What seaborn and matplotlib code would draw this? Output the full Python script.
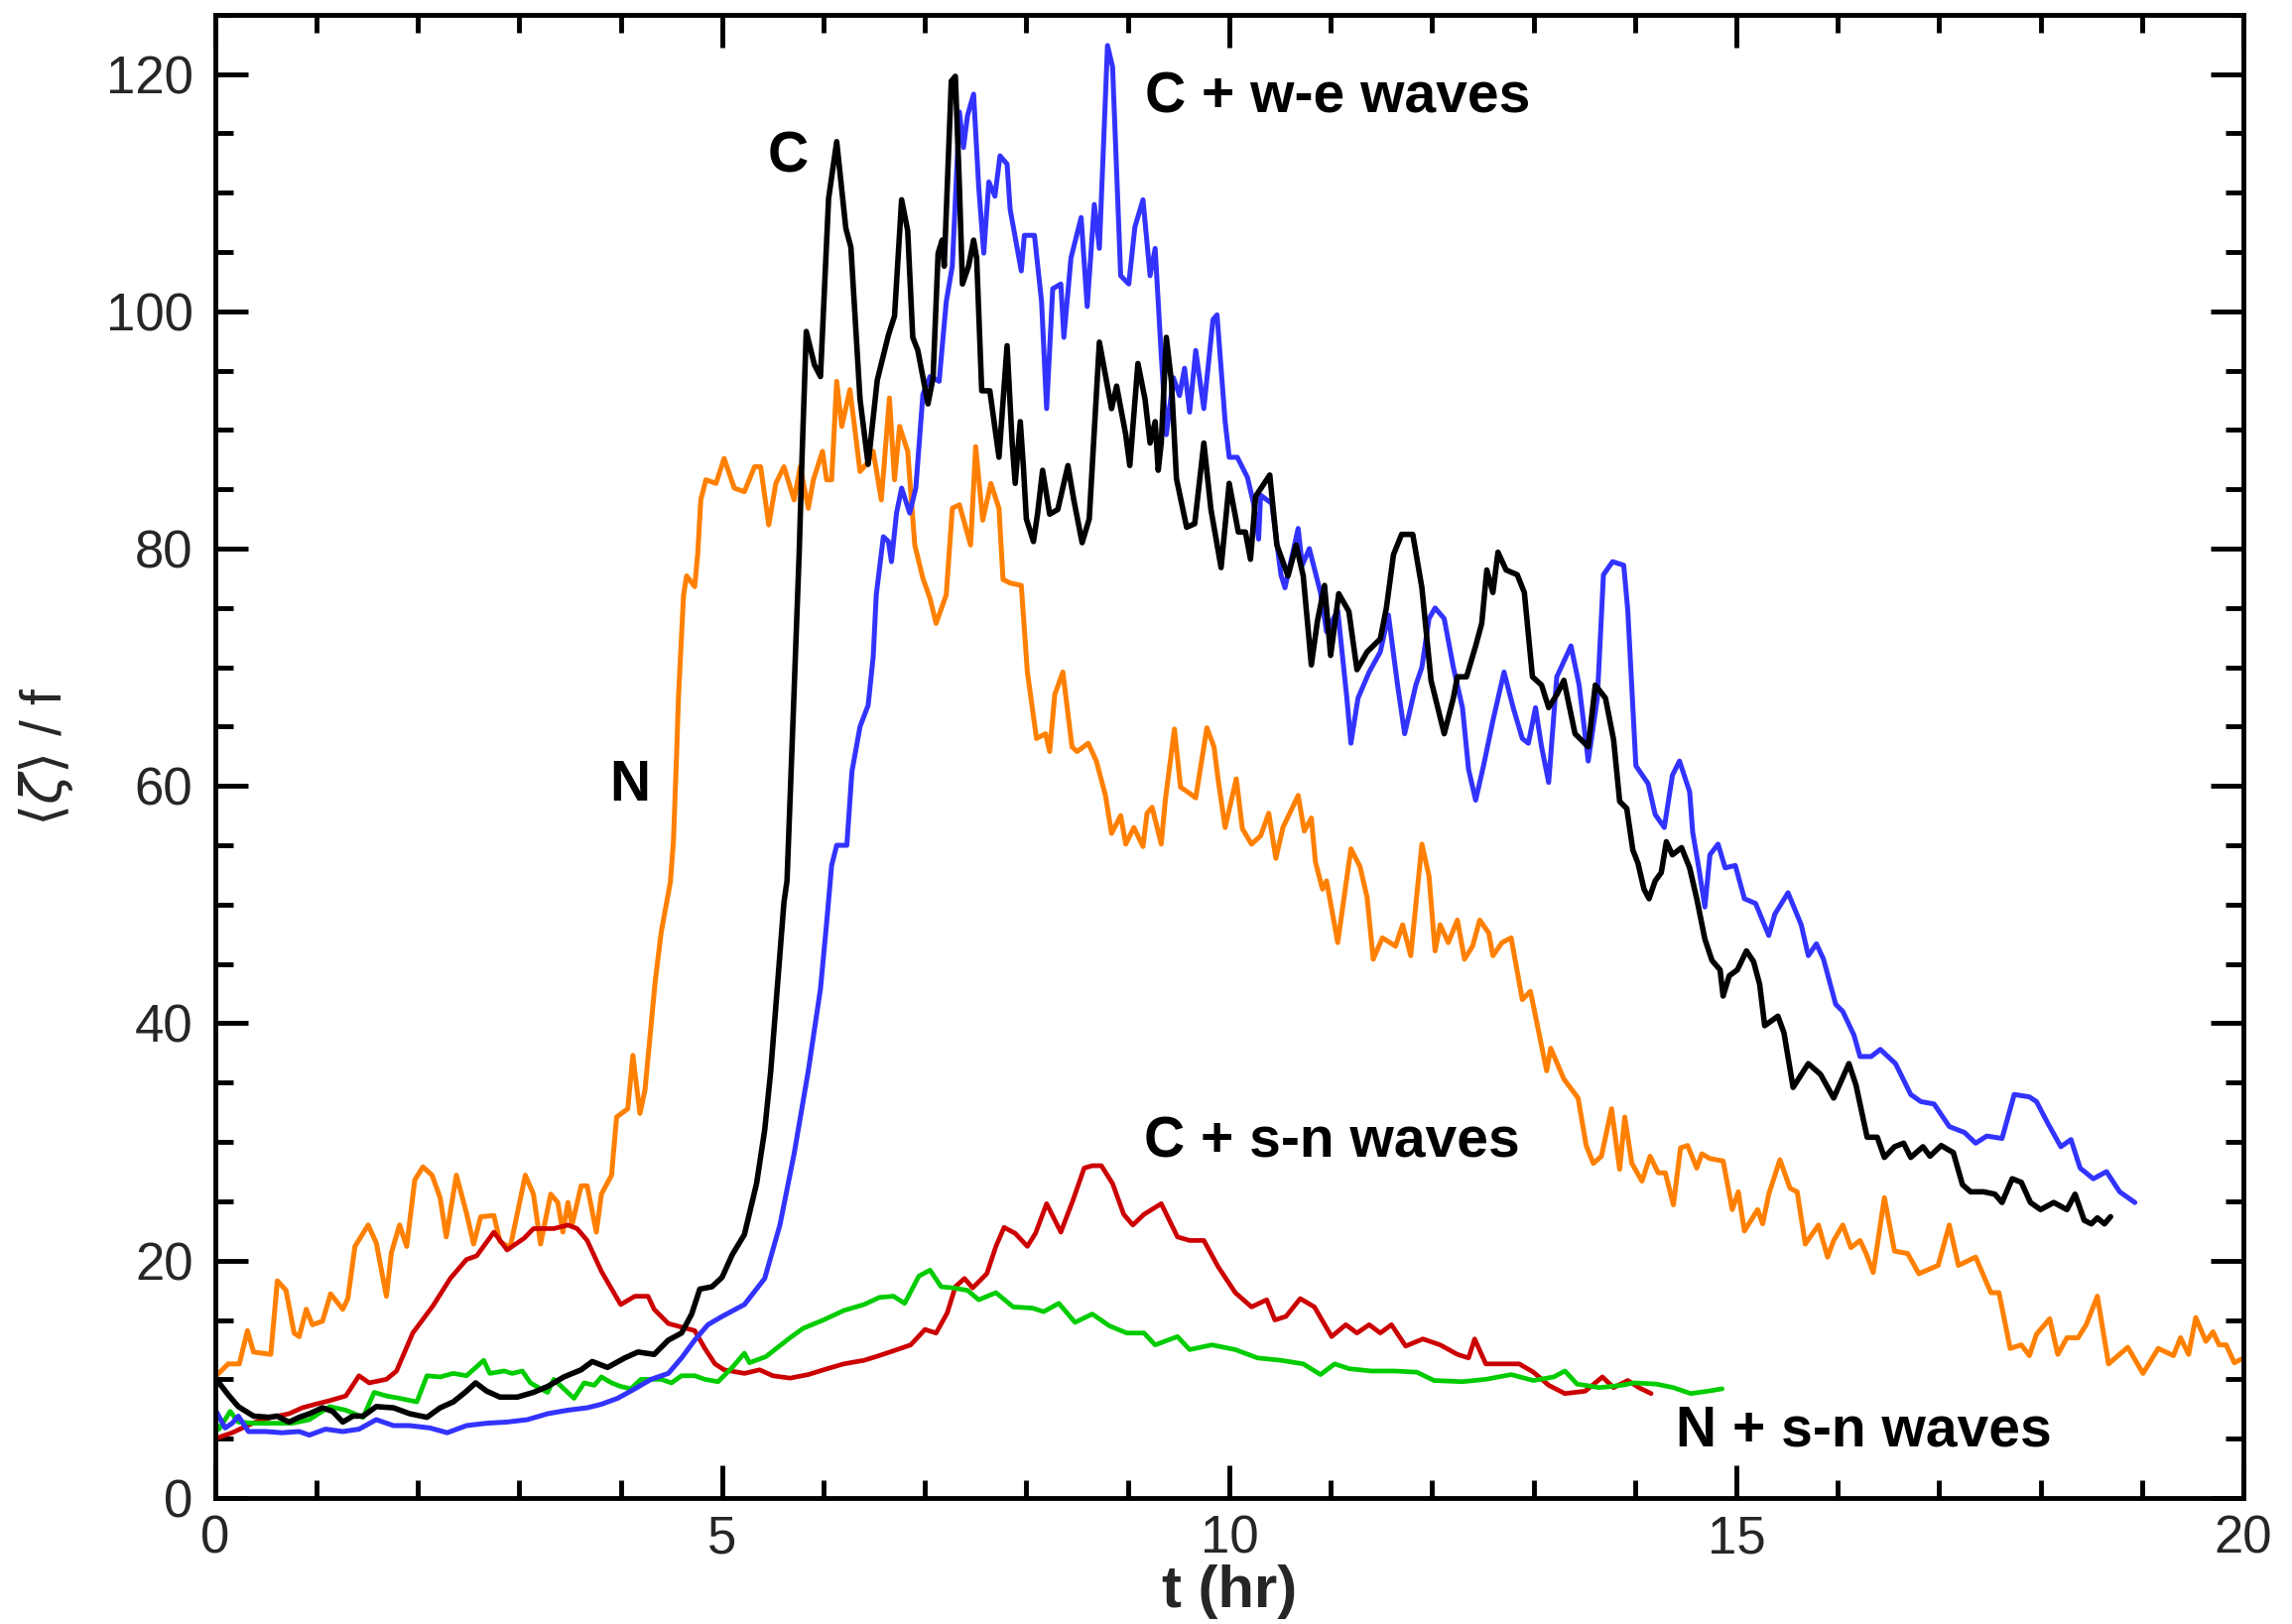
import matplotlib
matplotlib.use("Agg")
import matplotlib.pyplot as plt
from matplotlib.ticker import MultipleLocator
import seaborn as sns
import pandas as pd

# ---------------- data ----------------
series_names = ["N", "C", "C + w-e waves", "C + s-n waves", "N + s-n waves"]
series_colors = ["#ff8000", "#000000", "#3333ff", "#cc0000", "#00cc00"]

n_t = [0.0,0.13,0.24,0.32,0.38,0.55,0.615,0.70,0.78,0.83,0.90,0.96,1.06,1.14,1.26,1.31,1.38,1.51,1.59,1.69,1.74,1.82,1.89,1.97,2.05,2.14,2.22,2.28,2.38,2.48,2.55,2.62,2.75,2.81,2.91,3.06,3.14,3.21,3.31,3.38,3.43,3.48,3.52,3.61,3.67,3.76,3.81,3.91,3.96,4.07,4.12,4.19,4.24,4.34,4.40,4.49,4.52,4.55,4.57,4.62,4.65,4.73,4.76,4.79,4.84,4.94,5.02,5.12,5.22,5.32,5.38,5.46,5.53,5.61,5.71,5.77,5.85,5.90,5.99,6.03,6.08,6.13,6.18,6.26,6.31,6.36,6.43,6.49,6.57,6.65,6.70,6.75,6.83,6.90,6.98,7.05,7.11,7.21,7.27,7.34,7.45,7.50,7.57,7.65,7.73,7.77,7.84,7.95,8.01,8.10,8.19,8.23,8.28,8.36,8.45,8.50,8.61,8.69,8.78,8.84,8.93,8.98,9.06,9.15,9.19,9.24,9.33,9.37,9.46,9.52,9.59,9.67,9.78,9.85,9.89,9.96,10.07,10.13,10.22,10.31,10.39,10.46,10.53,10.68,10.74,10.81,10.85,10.92,10.96,11.07,11.20,11.29,11.36,11.42,11.51,11.64,11.71,11.79,11.90,11.97,12.03,12.08,12.16,12.25,12.32,12.40,12.47,12.56,12.60,12.69,12.78,12.89,12.97,13.13,13.17,13.30,13.44,13.52,13.59,13.67,13.77,13.85,13.90,13.97,14.07,14.15,14.23,14.30,14.38,14.45,14.52,14.61,14.66,14.74,14.87,14.96,15.02,15.08,15.21,15.26,15.32,15.43,15.53,15.60,15.68,15.81,15.90,15.96,16.05,16.13,16.22,16.28,16.35,16.46,16.56,16.69,16.80,16.99,17.10,17.19,17.36,17.51,17.59,17.70,17.81,17.89,17.96,18.09,18.17,18.26,18.37,18.45,18.56,18.67,18.86,19.01,19.16,19.31,19.38,19.46,19.53,19.63,19.70,19.76,19.83,19.91,19.98]
n_v = [10.2,11.3,11.3,14.1,12.3,12.1,18.3,17.5,13.9,13.6,15.9,14.6,14.9,17.2,15.9,16.8,21.2,23.0,21.5,17.0,20.7,23.0,21.2,26.8,27.9,27.2,25.3,22.0,27.2,24.0,21.4,23.7,23.8,21.6,21.1,27.2,25.6,21.4,25.6,24.9,22.4,24.9,23.0,26.3,26.3,22.4,25.6,27.2,32.1,32.8,37.3,32.4,34.4,43.5,47.7,51.9,55.3,62.3,67.5,76.1,77.7,76.8,79.6,84.1,85.8,85.5,87.6,85.1,84.8,86.9,86.9,82.0,85.5,86.9,84.1,86.9,83.4,85.8,88.2,85.8,85.8,94.1,90.3,93.4,90.0,86.5,87.2,88.2,84.1,92.7,85.8,90.3,88.2,80.3,77.5,75.8,73.7,76.1,83.4,83.7,80.3,88.6,82.4,85.5,83.4,77.4,77.1,76.9,69.6,64.0,64.4,62.9,67.7,69.6,63.3,62.9,63.6,62.1,59.2,56.0,57.5,55.1,56.5,54.9,57.7,58.2,55.1,58.8,64.8,59.9,59.5,59.0,64.9,63.3,60.6,56.5,60.6,56.4,55.1,55.8,57.7,53.9,56.5,59.2,56.2,57.3,53.6,51.3,52.0,46.8,54.7,53.2,50.6,45.4,47.2,46.5,48.3,45.7,55.1,52.4,46.1,48.3,46.8,48.7,45.4,46.5,48.7,47.6,45.7,46.8,47.2,42.0,42.7,36.0,37.9,35.3,33.7,29.7,28.2,28.8,32.8,27.7,32.1,28.2,26.7,28.8,27.4,27.4,24.7,29.5,29.7,27.8,29.0,28.6,28.4,24.3,25.8,22.5,24.3,23.1,25.6,28.5,26.1,25.8,21.4,23.0,20.3,21.7,23.0,21.1,21.7,20.6,19.0,25.3,20.8,20.6,18.9,19.6,23.0,19.6,20.3,17.3,17.3,12.6,12.9,12.0,13.8,15.1,12.1,13.5,13.5,14.6,17.0,11.3,12.7,10.5,12.6,12.0,13.5,12.1,15.2,13.2,14.0,12.9,12.9,11.4,11.7]

c_t = [0.0,0.04,0.13,0.23,0.38,0.53,0.61,0.73,0.83,0.93,1.06,1.16,1.26,1.36,1.46,1.59,1.76,1.92,2.09,2.22,2.35,2.48,2.57,2.68,2.81,2.98,3.14,3.28,3.44,3.61,3.72,3.87,4.04,4.17,4.33,4.47,4.60,4.70,4.78,4.90,5.0,5.1,5.22,5.34,5.42,5.48,5.53,5.57,5.61,5.64,5.67,5.70,5.73,5.76,5.79,5.83,5.91,5.97,6.05,6.13,6.22,6.27,6.36,6.44,6.53,6.64,6.70,6.77,6.83,6.88,6.93,7.03,7.08,7.13,7.17,7.19,7.26,7.30,7.34,7.37,7.43,7.48,7.51,7.56,7.64,7.73,7.81,7.86,7.89,7.94,7.97,8.00,8.07,8.11,8.16,8.23,8.31,8.41,8.47,8.55,8.62,8.72,8.80,8.84,8.89,8.98,9.02,9.10,9.17,9.22,9.27,9.30,9.33,9.38,9.43,9.48,9.58,9.66,9.75,9.82,9.92,10.00,10.09,10.16,10.21,10.26,10.40,10.47,10.58,10.66,10.73,10.81,10.87,10.94,11.00,11.08,11.18,11.26,11.36,11.49,11.55,11.62,11.70,11.81,11.90,11.99,12.12,12.21,12.25,12.34,12.43,12.49,12.54,12.60,12.65,12.73,12.84,12.91,12.99,13.08,13.15,13.23,13.30,13.41,13.54,13.61,13.71,13.79,13.85,13.92,13.98,14.03,14.09,14.14,14.20,14.26,14.31,14.37,14.46,14.54,14.61,14.69,14.76,14.84,14.87,14.93,15.01,15.10,15.17,15.23,15.28,15.41,15.47,15.56,15.71,15.83,15.96,16.11,16.18,16.29,16.39,16.46,16.56,16.65,16.72,16.84,16.91,17.02,17.14,17.23,17.31,17.44,17.55,17.62,17.72,17.81,17.90,18.00,18.13,18.26,18.34,18.43,18.50,18.56,18.63,18.69]
c_v = [10.0,9.7,8.7,7.7,6.9,6.8,6.9,6.4,6.8,7.1,7.6,7.3,6.4,6.9,6.9,7.7,7.6,7.1,6.8,7.6,8.1,9.0,9.7,9.0,8.5,8.5,8.9,9.4,10.2,10.8,11.5,11.0,11.8,12.3,12.1,13.3,13.9,15.5,17.6,17.8,18.6,20.5,22.2,26.5,31.0,36.0,41.5,46.0,50.2,52.0,58.8,65.7,72.7,79.6,88.2,98.3,95.5,94.5,109.5,114.3,107.0,105.4,92.6,87.1,94.2,98.0,99.6,109.4,106.8,97.8,96.7,92.2,94.4,104.9,106.0,103.8,119.4,119.8,110.5,102.3,103.8,106.0,104.5,93.3,93.3,87.7,97.1,88.9,85.5,90.7,87.0,82.5,80.6,82.9,86.6,82.9,83.3,87.0,84.0,80.5,82.5,97.4,93.7,91.8,93.7,89.6,87.0,95.6,92.6,88.9,90.7,86.6,88.9,97.8,94.1,85.9,81.8,82.1,88.9,83.3,78.4,85.5,81.4,81.4,79.1,84.4,86.2,80.3,77.7,80.3,77.7,70.2,73.9,76.9,71.0,76.2,74.7,69.8,71.3,72.4,75.0,79.5,81.2,81.2,76.7,68.9,64.4,67.4,69.2,69.2,71.8,73.7,78.2,76.3,79.7,78.2,77.8,76.3,69.2,68.5,66.6,67.7,68.9,64.4,63.3,68.5,67.4,63.9,58.7,58.1,54.6,53.5,51.3,50.5,52.0,52.7,55.3,54.2,54.8,53.1,50.5,47.1,45.3,44.5,42.3,44.0,44.5,46.1,45.2,43.3,39.8,40.6,39.2,34.6,36.6,35.7,33.7,36.6,34.8,30.4,30.4,28.7,29.6,29.9,28.7,29.6,28.8,29.7,29.1,26.4,25.8,25.8,25.6,24.9,26.9,26.6,24.9,24.3,24.9,24.3,25.6,23.4,23.1,23.6,23.1,23.7]

cwe_t = [0.0,0.10,0.17,0.23,0.33,0.50,0.66,0.83,0.93,1.09,1.26,1.42,1.59,1.76,1.92,2.12,2.29,2.48,2.68,2.88,3.08,3.28,3.48,3.67,3.81,3.97,4.14,4.30,4.47,4.60,4.73,4.86,5.0,5.22,5.42,5.57,5.71,5.85,5.97,6.03,6.08,6.13,6.23,6.28,6.36,6.44,6.49,6.52,6.56,6.59,6.64,6.67,6.72,6.77,6.85,6.91,6.98,7.05,7.14,7.21,7.27,7.34,7.38,7.42,7.48,7.53,7.58,7.63,7.69,7.74,7.81,7.84,7.95,7.98,8.08,8.15,8.20,8.26,8.34,8.37,8.44,8.54,8.60,8.67,8.72,8.80,8.85,8.93,9.01,9.07,9.15,9.22,9.27,9.33,9.38,9.45,9.51,9.56,9.61,9.67,9.75,9.84,9.88,9.96,10.00,10.08,10.18,10.24,10.29,10.31,10.42,10.51,10.55,10.68,10.72,10.79,10.90,10.96,11.07,11.16,11.20,11.27,11.38,11.49,11.57,11.66,11.73,11.84,11.90,11.97,12.03,12.12,12.21,12.30,12.36,12.43,12.51,12.60,12.71,12.80,12.89,12.95,13.02,13.08,13.15,13.23,13.37,13.45,13.54,13.63,13.69,13.78,13.89,13.93,14.01,14.13,14.20,14.29,14.37,14.44,14.54,14.57,14.63,14.69,14.74,14.82,14.89,14.99,15.08,15.19,15.32,15.38,15.51,15.64,15.71,15.79,15.86,15.98,16.05,16.16,16.22,16.33,16.42,16.57,16.72,16.82,16.95,17.10,17.25,17.36,17.47,17.62,17.74,17.89,17.96,18.07,18.20,18.30,18.39,18.52,18.65,18.78,18.93]
cwe_v = [7.5,5.9,6.3,6.9,5.6,5.6,5.5,5.6,5.3,5.8,5.6,5.8,6.6,6.1,6.1,5.9,5.5,6.1,6.3,6.4,6.6,7.1,7.4,7.6,7.9,8.4,9.2,10.0,10.5,11.8,13.3,14.6,15.3,16.3,18.5,23.0,29.0,36.0,42.9,48.4,53.3,55.0,55.0,61.2,65.0,66.8,70.9,76.1,78.9,81.0,80.6,78.9,83.0,85.1,83.0,85.1,93.0,94.5,94.1,100.8,103.8,116.8,113.8,116.5,118.3,110.5,104.9,110.9,109.7,113.1,112.4,108.6,103.4,106.4,106.4,100.8,91.8,101.9,102.3,97.8,104.5,107.9,100.4,109.0,105.3,122.4,120.6,103.0,102.3,107.1,109.4,103.0,105.3,96.3,89.6,94.4,92.9,95.2,91.5,96.7,91.8,99.3,99.7,90.7,87.7,87.7,86.0,83.8,80.8,84.5,83.8,77.8,76.7,81.7,78.6,80.0,76.3,73.0,74.8,67.4,63.6,67.4,69.6,71.3,74.4,68.5,64.4,68.5,70.0,74.1,75.0,74.1,70.0,66.6,61.4,58.8,61.8,65.5,69.6,66.6,64.0,63.6,66.6,63.3,60.3,69.2,71.8,68.5,62.1,67.4,77.8,78.9,78.6,74.8,61.7,60.2,57.6,56.5,60.9,62.1,59.5,56.1,53.1,49.8,54.2,55.1,53.1,53.3,50.5,50.1,47.4,49.2,51.0,48.3,45.7,46.7,45.4,41.6,41.0,39.0,37.2,37.2,37.8,36.6,34.0,33.4,33.2,31.3,30.8,29.9,30.5,30.3,34.0,33.8,33.4,31.6,29.6,30.2,27.8,26.9,27.5,25.8,24.9]

csn_t = [0.0,0.17,0.27,0.40,0.56,0.73,0.86,0.99,1.13,1.29,1.42,1.52,1.69,1.79,1.95,2.15,2.32,2.48,2.58,2.75,2.88,3.05,3.14,3.34,3.48,3.57,3.67,3.81,4.00,4.14,4.27,4.33,4.47,4.60,4.73,4.83,4.93,5.02,5.22,5.37,5.5,5.67,5.85,6.0,6.2,6.4,6.55,6.69,6.86,7.00,7.11,7.22,7.30,7.39,7.47,7.61,7.70,7.78,7.89,8.01,8.09,8.20,8.34,8.46,8.57,8.65,8.74,8.85,8.96,9.05,9.16,9.33,9.49,9.61,9.75,9.89,10.06,10.22,10.37,10.45,10.56,10.70,10.84,11.01,11.15,11.26,11.38,11.49,11.60,11.74,11.91,12.08,12.25,12.36,12.42,12.53,12.70,12.86,13.00,13.15,13.31,13.51,13.68,13.79,13.93,14.04,14.16]
csn_v = [5.0,5.5,5.9,6.4,6.8,7.1,7.6,7.9,8.2,8.6,10.3,9.7,10.0,10.7,13.9,16.2,18.5,20.1,20.4,22.4,20.9,21.9,22.7,22.7,23.0,22.7,21.7,19.1,16.3,17.0,17.0,15.9,14.7,14.4,14.1,12.6,11.3,10.8,10.5,10.8,10.3,10.1,10.4,10.8,11.3,11.6,12.0,12.4,12.9,14.2,13.9,15.6,17.8,18.5,17.7,18.9,21.2,22.8,22.3,21.2,22.3,24.8,22.4,25.1,27.8,28.0,28.0,26.5,23.9,23.0,23.9,24.8,22.0,21.7,21.7,19.5,17.3,16.1,16.7,15.0,15.3,16.8,16.1,13.6,14.6,13.9,14.6,13.9,14.6,12.8,13.4,12.9,12.1,11.8,13.4,11.3,11.3,11.3,10.6,9.5,8.8,9.0,10.2,9.3,9.9,9.3,8.8]

nsn_t = [0.0,0.04,0.15,0.23,0.38,0.56,0.76,0.93,1.13,1.29,1.46,1.57,1.69,1.82,1.99,2.09,2.22,2.35,2.48,2.65,2.71,2.85,2.93,3.03,3.11,3.21,3.28,3.34,3.44,3.54,3.64,3.74,3.81,3.91,4.00,4.10,4.20,4.30,4.40,4.50,4.60,4.73,4.83,4.96,5.1,5.22,5.27,5.43,5.67,5.8,6.0,6.2,6.4,6.55,6.69,6.80,6.94,7.05,7.16,7.28,7.42,7.53,7.70,7.87,8.06,8.17,8.32,8.48,8.65,8.82,8.99,9.16,9.27,9.49,9.61,9.83,10.06,10.28,10.51,10.73,10.90,11.04,11.18,11.40,11.63,11.85,12.02,12.30,12.53,12.78,13.00,13.20,13.31,13.43,13.65,13.87,13.99,14.21,14.38,14.55,14.72,14.86]
nsn_v = [6.5,5.8,7.3,6.4,6.3,6.3,6.3,6.6,7.7,7.4,6.8,8.9,8.6,8.4,8.1,10.3,10.2,10.5,10.3,11.6,10.5,10.7,10.5,10.7,9.7,9.2,8.9,10.0,9.2,8.4,9.7,9.5,10.2,9.7,9.4,9.2,10.0,10.0,10.0,9.7,10.3,10.3,10.0,9.8,11.0,12.2,11.4,11.9,13.5,14.3,15.0,15.8,16.3,16.9,17.0,16.4,18.7,19.2,17.8,17.7,17.5,16.7,17.3,16.1,16.0,15.7,16.4,14.8,15.5,14.5,13.9,13.9,12.9,13.6,12.5,12.9,12.5,11.8,11.6,11.3,10.4,11.3,10.9,10.7,10.7,10.6,9.9,9.8,10.0,10.4,9.9,10.2,10.7,9.6,9.3,9.5,9.7,9.6,9.3,8.8,9.0,9.2]

x_major = [0, 5, 10, 15, 20]
y_major = [0, 20, 40, 60, 80, 100, 120]
x_label = "t (hr)"
y_label = r"$\langle\zeta\rangle$ / f"

# annotation texts (placed in data coordinates)
annot_text = ["C + w-e waves", "C", "N", "C + s-n waves", "N + s-n waves"]
annot_x = [9.17, 5.45, 3.89, 9.16, 14.40]
annot_y = [118.0, 113.0, 60.0, 30.0, 5.6]

# ---------------- figure ----------------
sns.set_style("ticks")
plt.rcParams["font.family"] = ["Liberation Sans", "DejaVu Sans"]
plt.rcParams["mathtext.fontset"] = "dejavusans"

fig = plt.figure(figsize=(23.1, 16.37), dpi=100)
ax = fig.add_axes([0.0938, 0.0776, 0.9788 - 0.0938, 0.991 - 0.0776])

all_t = [n_t, c_t, cwe_t, csn_t, nsn_t]
all_v = [n_v, c_v, cwe_v, csn_v, nsn_v]
widths = [3.6, 4.0, 3.6, 3.4, 3.4]
order = [0, 3, 4, 2, 1]
for i in order:
    df = pd.DataFrame({"t": all_t[i], "v": all_v[i]})
    sns.lineplot(data=df, x="t", y="v", color=series_colors[i], linewidth=widths[i],
                 estimator=None, sort=False, ax=ax, legend=False)

ax.set_xlim(0, 20)
ax.set_ylim(0, 125)
ax.set_xticks(x_major)
ax.set_yticks(y_major)
ax.xaxis.set_minor_locator(MultipleLocator(1))
ax.yaxis.set_minor_locator(MultipleLocator(5))
ax.tick_params(which="both", direction="in", top=True, right=True,
               width=3.5, color="black")
ax.tick_params(which="major", length=24)
ax.tick_params(which="minor", length=13)
ax.tick_params(axis="y", which="major", labelsize=38, pad=16)
ax.tick_params(axis="x", which="major", labelsize=38, pad=12)
for sp in ax.spines.values():
    sp.set_linewidth(3.5)
    sp.set_color("black")
    sp.set_visible(True)

ax.set_xlabel(x_label, fontsize=43, fontweight="bold", labelpad=0)
ax.set_ylabel(y_label, fontsize=41, labelpad=22)

for txt, xx, yy in zip(annot_text, annot_x, annot_y):
    ax.text(xx, yy, txt, fontsize=41, fontweight="bold", ha="left",
            va="center", color="black")

fig.savefig("out.png", dpi=100)
